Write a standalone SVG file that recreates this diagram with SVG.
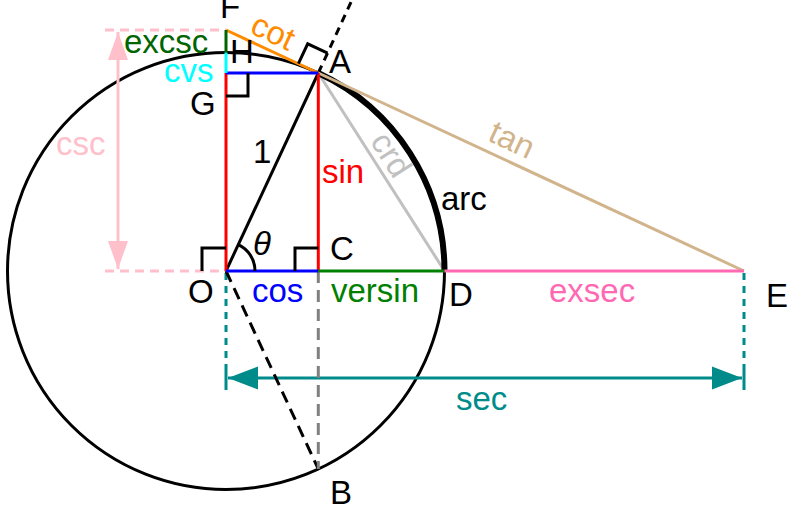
<svg xmlns="http://www.w3.org/2000/svg" width="800" height="511" viewBox="0 0 800 511">
<style>
text{font-family:"Liberation Sans",Arial,sans-serif;font-size:33px;fill:#000}
.ln{fill:none;stroke-width:3}
.mk{fill:none;stroke:#000;stroke-width:3}
</style>
<defs>
<marker id="ap" markerUnits="userSpaceOnUse" markerWidth="30" markerHeight="24" viewBox="0 0 30 24" refX="28" refY="12" orient="auto-start-reverse"><path d="M0,2 L28,12 L0,22 Z" fill="#ffc0cb"/></marker>
<marker id="at" markerUnits="userSpaceOnUse" markerWidth="32" markerHeight="26" viewBox="0 0 32 26" refX="30" refY="13" orient="auto-start-reverse"><path d="M0,1.5 L30,13 L0,24.5 Z" fill="#008b8b"/></marker>
</defs>
<rect width="800" height="511" fill="#fff"/>
<g id="circle"><circle cx="226" cy="271" r="218.5" class="ln" stroke="#000"/></g>
<g id="connectors">
<line x1="105" y1="30" x2="226" y2="30" class="ln" stroke="#ffc0cb" stroke-dasharray="9,6"/>
<line x1="105" y1="271" x2="226" y2="271" class="ln" stroke="#ffc0cb" stroke-dasharray="9,6"/>
<line x1="118" y1="32" x2="118" y2="269" class="ln" stroke="#ffc0cb" marker-start="url(#ap)" marker-end="url(#ap)"/>
<line x1="226" y1="273" x2="226" y2="366" class="ln" stroke="#008b8b" stroke-dasharray="7,6"/>
<line x1="744" y1="273" x2="744" y2="366" class="ln" stroke="#008b8b" stroke-dasharray="7,6"/>
<line x1="226" y1="366" x2="226" y2="390" class="ln" stroke="#008b8b"/>
<line x1="744" y1="366" x2="744" y2="390" class="ln" stroke="#008b8b"/>
<line x1="228" y1="378" x2="742" y2="378" class="ln" stroke="#008b8b" marker-start="url(#at)" marker-end="url(#at)"/>
<line x1="226" y1="271" x2="318.3" y2="469" class="ln" stroke="#000" stroke-dasharray="12,7"/>
<line x1="318.3" y1="271" x2="318.3" y2="469" class="ln" stroke="#808080" stroke-dasharray="12,7"/>
<line x1="318.3" y1="73" x2="352" y2="0" class="ln" stroke="#000" stroke-dasharray="8,6"/>
<line x1="226" y1="271" x2="318.3" y2="73" class="ln" stroke="#000"/>
<line x1="318.3" y1="73" x2="444.5" y2="271" class="ln" stroke="#c0c0c0"/>
<path d="M318.3,73 A218.5,218.5 0 0 1 444.5,271" fill="none" stroke="#000" stroke-width="6"/>
<line x1="318.3" y1="73" x2="744" y2="271" class="ln" stroke="#d2b48c"/>
<line x1="226" y1="30" x2="318.3" y2="73" class="ln" stroke="#ff8c00"/>
<line x1="226" y1="73" x2="226" y2="271" class="ln" stroke="#ff0000"/>
<line x1="318.3" y1="73" x2="318.3" y2="271" class="ln" stroke="#ff0000"/>
<line x1="226" y1="73" x2="318.3" y2="73" class="ln" stroke="#0000ff"/>
<line x1="226" y1="271" x2="318.3" y2="271" class="ln" stroke="#0000ff"/>
<line x1="318.3" y1="271" x2="444.5" y2="271" class="ln" stroke="#008000"/>
<line x1="444.5" y1="271" x2="744" y2="271" class="ln" stroke="#ff69b4"/>
<line x1="226" y1="30" x2="226" y2="52.5" class="ln" stroke="#006400"/>
<line x1="226" y1="52.5" x2="226" y2="73" class="ln" stroke="#00ffff"/>
<path d="M255,271 A29,29 0 0 0 238.3,244.7" class="mk"/>
<polyline points="202,271 202,248 226,248" class="mk"/>
<polyline points="295,271 295,248 318.3,248" class="mk"/>
<polyline points="226,96 248,96 248,73" class="mk"/>
<polyline points="298.4,63.7 307.7,43.8 327.6,53.1" class="mk"/>
</g>
<g id="labels">
<text x="220" y="18">F</text>
<text x="124" y="53" style="fill:#006400">excsc</text>
<text x="164" y="82" style="fill:#00ffff">cvs</text>
<text x="230" y="63">H</text>
<text x="190" y="115">G</text>
<text x="329" y="73">A</text>
<text x="253" y="163">1</text>
<text x="322" y="183" style="fill:#ff0000">sin</text>
<text x="441" y="210">arc</text>
<text x="253" y="255" style="font-style:italic">θ</text>
<text x="330" y="260">C</text>
<text x="188" y="303">O</text>
<text x="252" y="302" style="fill:#0000ff">cos</text>
<text x="331" y="302" style="fill:#008000">versin</text>
<text x="449" y="306">D</text>
<text x="549" y="302" style="fill:#ff69b4">exsec</text>
<text x="766" y="307">E</text>
<text x="456" y="410" style="fill:#008b8b">sec</text>
<text x="330" y="504">B</text>
<text x="56" y="155" style="fill:#ffc0cb">csc</text>
<text transform="translate(268.4,41.8) rotate(25)" text-anchor="middle" style="fill:#ff8c00">cot</text>
<text transform="translate(507.4,149.8) rotate(25)" text-anchor="middle" style="fill:#d2b48c">tan</text>
<text transform="translate(381.7,160.6) rotate(57.5)" text-anchor="middle" style="fill:#c0c0c0">crd</text>
</g>
</svg>
